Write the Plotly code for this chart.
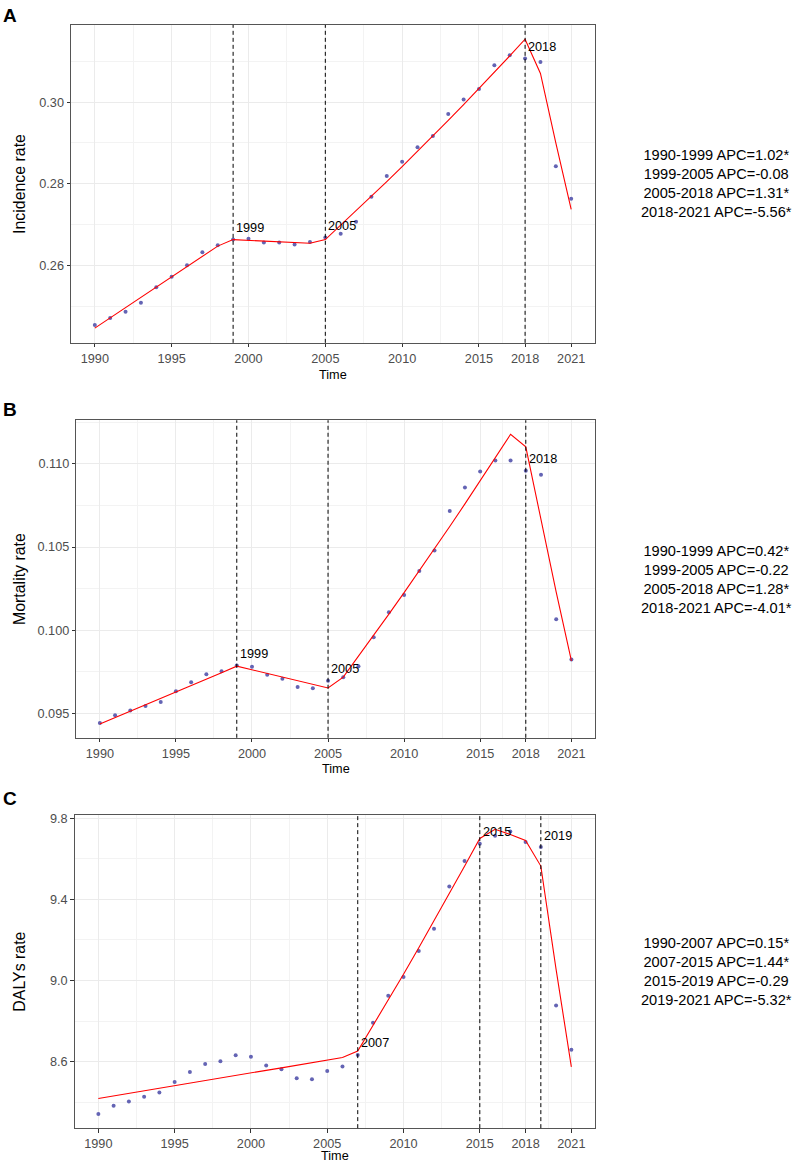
import plotly.graph_objects as go

W, H = 797, 1165

years = list(range(1990, 2022))

inc_obs = [0.2454, 0.2471, 0.2486, 0.2508, 0.2546, 0.2572, 0.2600, 0.2632, 0.2649, 0.2663,
           0.2665, 0.2656, 0.2656, 0.2651, 0.2657, 0.2668, 0.2677, 0.2707, 0.2768, 0.2819,
           0.2854, 0.2889, 0.2917, 0.2971, 0.3006, 0.3032, 0.3090, 0.3115, 0.3107, 0.3098,
           0.2843, 0.2763]
inc_fit = [0.2446, 0.2471, 0.2496, 0.2521, 0.2546, 0.2572, 0.2597, 0.2622, 0.2647, 0.2663,
           0.2661, 0.2659, 0.2658, 0.2656, 0.2654, 0.2663, 0.2698, 0.2733, 0.2769, 0.2805,
           0.2842, 0.2879, 0.2917, 0.2955, 0.2994, 0.3033, 0.3073, 0.3113, 0.3154, 0.3070,
           0.2900, 0.2737]

mort_obs = [0.09444, 0.09490, 0.09518, 0.09546, 0.09570, 0.09634, 0.09689, 0.09737, 0.09755, 0.09789,
            0.09781, 0.09733, 0.09709, 0.09660, 0.09652, 0.09697, 0.09719, 0.09785, 0.09959, 0.10108,
            0.10212, 0.10356, 0.10479, 0.10717, 0.10858, 0.10954, 0.11020, 0.11020, 0.10958, 0.10934,
            0.10066, 0.09825]
mort_fit = [0.09438, 0.09476, 0.09514, 0.09552, 0.09591, 0.09629, 0.09668, 0.09707, 0.09746, 0.09785,
            0.09763, 0.09741, 0.09719, 0.09697, 0.09676, 0.09654, 0.09719, 0.09843, 0.09969, 0.10097,
            0.10226, 0.10357, 0.10489, 0.10623, 0.10759, 0.10897, 0.11036, 0.11177, 0.11101, 0.10656,
            0.10229, 0.09817]

daly_obs = [8.3413, 8.3822, 8.4035, 8.4264, 8.4477, 8.5001, 8.5492, 8.5885, 8.6016, 8.6311,
            8.6246, 8.5804, 8.5623, 8.5181, 8.5132, 8.5542, 8.5754, 8.6327, 8.7916, 8.9242,
            9.0175, 9.1452, 9.2549, 9.4629, 9.5889, 9.6741, 9.7140, 9.7346, 9.6823, 9.6577,
            8.8767, 8.6589]
daly_fit = [8.418, 8.431, 8.443, 8.456, 8.469, 8.481, 8.494, 8.506, 8.519, 8.532,
            8.544, 8.557, 8.569, 8.582, 8.595, 8.607, 8.620, 8.652, 8.777, 8.903,
            9.031, 9.161, 9.293, 9.427, 9.563, 9.700, 9.745, 9.720, 9.690, 9.564,
            9.055, 8.574]

inc_joins = [1999, 2005, 2018]
mort_joins = [1999, 2005, 2018]
daly_joins = [2007, 2015, 2019]

inc_apc = ["1990-1999 APC=1.02*", "1999-2005 APC=-0.08", "2005-2018 APC=1.31*", "2018-2021 APC=-5.56*"]
mort_apc = ["1990-1999 APC=0.42*", "1999-2005 APC=-0.22", "2005-2018 APC=1.28*", "2018-2021 APC=-4.01*"]
daly_apc = ["1990-2007 APC=0.15*", "2007-2015 APC=1.44*", "2015-2019 APC=-0.29", "2019-2021 APC=-5.32*"]

x_ticks = [1990, 1995, 2000, 2005, 2010, 2015, 2018, 2021]
x_minor = [1992.5, 1997.5, 2002.5, 2007.5, 2012.5, 2016.5, 2019.5]

inc_yticks = [0.26, 0.28, 0.30]
inc_ylabels = ["0.26", "0.28", "0.30"]
inc_yminor = [0.25, 0.27, 0.29, 0.31]
mort_yticks = [0.095, 0.100, 0.105, 0.110]
mort_ylabels = ["0.095", "0.100", "0.105", "0.110"]
mort_yminor = [0.0975, 0.1025, 0.1075, 0.1125]
daly_yticks = [8.6, 9.0, 9.4, 9.8]
daly_ylabels = ["8.6", "9.0", "9.4", "9.8"]
daly_yminor = [8.4, 8.8, 9.2, 9.6]

FONT = "Liberation Sans, Arial, sans-serif"
PT_COLOR = "#6464B4"


def fx(px):
    return px / W


def fy(py):
    return 1 - py / H


panels = [
    dict(letter="A", obs=inc_obs, fit=inc_fit, joins=inc_joins, apc=inc_apc, ytitle="Incidence rate",
         yticks=inc_yticks, ylabels=inc_ylabels, yminor=inc_yminor, yrange=[0.2410, 0.3189],
         px=(71, 595), py=(21, 340), letter_y=11.5, ytitle_x=20, time_dy=32),
    dict(letter="B", obs=mort_obs, fit=mort_fit, joins=mort_joins, apc=mort_apc, ytitle="Mortality rate",
         yticks=mort_yticks, ylabels=mort_ylabels, yminor=mort_yminor, yrange=[0.09355, 0.11261],
         px=(76.3, 595), py=(417.7, 736.3), letter_y=406.5, ytitle_x=19, time_dy=31),
    dict(letter="C", obs=daly_obs, fit=daly_fit, joins=daly_joins, apc=daly_apc, ytitle="DALYs rate",
         yticks=daly_yticks, ylabels=daly_ylabels, yminor=daly_yminor, yrange=[8.2722, 9.8147],
         px=(74.7, 595), py=(814, 1128), letter_y=797.5, ytitle_x=20, time_dy=28),
]

fig = go.Figure()
layout = dict(width=W, height=H, margin=dict(l=0, r=0, t=0, b=0),
              paper_bgcolor="white", plot_bgcolor="white", showlegend=False,
              font=dict(family=FONT), annotations=[], shapes=[])

for i, p in enumerate(panels, start=1):
    xa = "x" if i == 1 else f"x{i}"
    ya = "y" if i == 1 else f"y{i}"
    fig.add_trace(go.Scatter(x=years, y=p["obs"], mode="markers", xaxis=xa, yaxis=ya,
                             marker=dict(size=4, color=PT_COLOR), hoverinfo="skip"))
    fig.add_trace(go.Scatter(x=years, y=p["fit"], mode="lines", xaxis=xa, yaxis=ya,
                             line=dict(color="#FF0000", width=1.1), hoverinfo="skip"))
    x0, x1 = p["px"]
    y0, y1 = p["py"]
    xdom = [fx(x0), fx(x1)]
    ydom = [fy(y1), fy(y0)]
    layout["xaxis" if i == 1 else f"xaxis{i}"] = dict(
        domain=xdom, anchor=ya, range=[1988.45, 2022.55],
        tickmode="array", tickvals=x_ticks, ticktext=[str(t) for t in x_ticks],
        ticks="outside", ticklen=3.5, tickwidth=1, tickcolor="#333333",
        tickfont=dict(size=12.7, color="#4D4D4D", family=FONT),
        showgrid=True, gridcolor="#EBEBEB", gridwidth=1,
        minor=dict(tickmode="array", tickvals=x_minor, showgrid=True, gridcolor="#F3F3F3", gridwidth=0.6, ticks=""),
        showline=True, linecolor="#555555", linewidth=1, mirror=True, zeroline=False, fixedrange=True)
    layout["yaxis" if i == 1 else f"yaxis{i}"] = dict(
        domain=ydom, anchor=xa, range=p["yrange"],
        tickmode="array", tickvals=p["yticks"], ticktext=p["ylabels"],
        ticks="outside", ticklen=3.5, tickwidth=1, tickcolor="#333333",
        tickfont=dict(size=12.7, color="#4D4D4D", family=FONT),
        showgrid=True, gridcolor="#EBEBEB", gridwidth=1,
        minor=dict(tickmode="array", tickvals=p["yminor"], showgrid=True, gridcolor="#F3F3F3", gridwidth=0.6, ticks=""),
        showline=True, linecolor="#555555", linewidth=1, mirror=True, zeroline=False, fixedrange=True)

    # dashed joinpoint lines and labels
    for j in p["joins"]:
        layout["shapes"].append(dict(type="line", xref=xa, yref=f"{ya} domain", x0=j, x1=j, y0=0, y1=1,
                                     line=dict(color="black", width=1, dash="4px,3px"), layer="above"))
        yv = p["obs"][years.index(j)]
        layout["annotations"].append(dict(x=j, y=yv, xref=xa, yref=ya, text=str(j), showarrow=False,
                                          xanchor="left", yanchor="middle", xshift=1, yshift=11.5,
                                          font=dict(size=12.7, color="black", family=FONT)))
    # panel letter
    layout["annotations"].append(dict(x=fx(1), y=fy(p["letter_y"]), xref="paper", yref="paper",
                                      text=f"<b>{p['letter']}</b>", showarrow=False,
                                      xanchor="left", yanchor="middle",
                                      font=dict(size=19, color="black", family=FONT)))
    # y title
    layout["annotations"].append(dict(x=fx(p["ytitle_x"]), y=fy((y0 + y1) / 2), xref="paper", yref="paper",
                                      text=p["ytitle"], textangle=-90, showarrow=False,
                                      xanchor="center", yanchor="middle",
                                      font=dict(size=15.9, color="black", family=FONT)))
    # x title
    layout["annotations"].append(dict(x=fx((x0 + x1) / 2), y=fy(y1 + p["time_dy"]), xref="paper", yref="paper",
                                      text="Time", showarrow=False, xanchor="center", yanchor="middle",
                                      font=dict(size=12.7, color="black", family=FONT)))
    # APC text block
    layout["annotations"].append(dict(x=fx(716), y=fy((y0 + y1) / 2), xref="paper", yref="paper",
                                      text="<br>".join(p["apc"]), showarrow=False, align="center",
                                      xanchor="center", yanchor="middle",
                                      font=dict(size=14.6, color="black", family=FONT)))

fig.update_layout(**layout)
# remove the browser's default 8px body margin so the figure fills the window exactly
fig.write_html("out.html", config={"displayModeBar": False},
               post_script="document.body.style.margin='0px';document.body.style.overflow='hidden';")
